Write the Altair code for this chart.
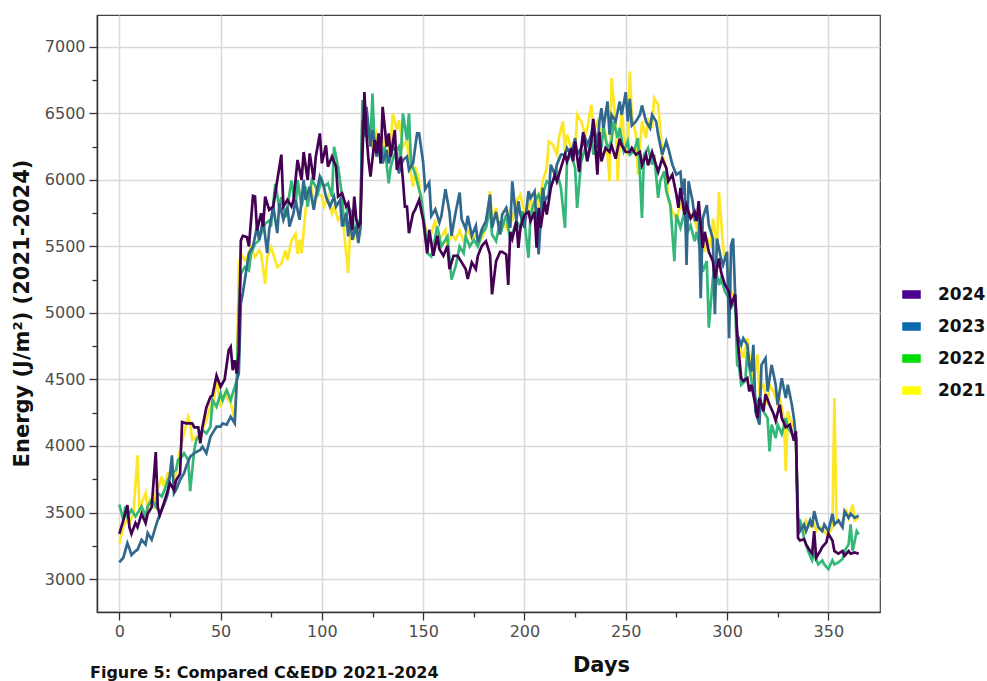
import altair as alt
import pandas as pd

YEARS = ["2024", "2023", "2022", "2021"]
LINE_COLORS = {"2024": "#440154", "2023": "#31688e", "2022": "#35b779", "2021": "#fde725"}
LEGEND_COLORS = ["#4b0092", "#0a69ad", "#00dd00", "#ffff00"]
X_TICKS = list(range(0, 351, 25))
Y_TICKS = list(range(3000, 7001, 250))
X_TITLE = "Days"
Y_TITLE = "Energy (J/m²) (2021-2024)"
CAPTION = "Figure 5: Compared C&EDD 2021-2024"

# (day, energy) readings
S2024 = [(0,3340),(2,3440),(4,3555),(5,3390),(6,3340),(8,3420),(9,3390),(11,3490),(13,3420),(14,3490),(16,3540),(18,3955),(19,3540),(20,3480),(22,3570),(23,3620),(25,3720),(27,3670),(28,3740),(30,3790),(31,4180),(33,4170),(36,4170),(37,4140),(39,4140),(40,4020),(41,4140),(43,4290),(45,4370),(46,4380),(48,4530),(50,4445),(52,4500),(54,4720),(55,4745),(56,4570),(57,4645),(58,4545),(59,4700),(60,5545),(61,5580),(63,5570),(64,5500),(66,5880),(67,5875),(68,5620),(70,5750),(71,5650),(72,5875),(74,5775),(76,5800),(78,6000),(80,6190),(81,5800),(83,5850),(85,5800),(86,5850),(88,6150),(90,6000),(91,6210),(93,6000),(94,6200),(96,6000),(97,6175),(99,6350),(100,6125),(102,6260),(103,6100),(105,6175),(107,6100),(108,5875),(110,5900),(112,5800),(113,5825),(115,5625),(116,5875),(117,5700),(118,5650),(119,5675),(121,6660),(122,6350),(123,6150),(124,6025),(126,6300),(127,6200),(128,6350),(129,6125),(130,6550),(132,6250),(133,6350),(134,6175),(136,6375),(137,6075),(139,6175),(140,6000),(141,5800),(142,5800),(143,5600),(145,5750),(146,5775),(148,5850),(150,5700),(152,5450),(153,5625),(155,5430),(157,5580),(158,5480),(160,5430),(162,5505),(163,5330),(165,5430),(167,5430),(169,5380),(171,5330),(172,5255),(174,5380),(176,5330),(177,5430),(179,5505),(181,5540),(183,5440),(184,5140),(186,5390),(188,5460),(189,5460),(191,5440),(192,5210),(193,5610),(194,5560),(196,5690),(197,5490),(198,5640),(200,5740),(202,5760),(203,5690),(205,5760),(206,5490),(207,5790),(208,5640),(210,5840),(211,5740),(213,5940),(215,6040),(216,5990),(218,6090),(220,6190),(221,6140),(223,6240),(224,6140),(225,6290),(227,6060),(228,6240),(229,6360),(231,6140),(233,6290),(234,6460),(236,6040),(237,6360),(238,6140),(240,6240),(242,6210),(243,6260),(245,6160),(247,6310),(248,6260),(250,6210),(252,6210),(253,6240),(255,6190),(257,6210),(258,6110),(260,6190),(261,6110),(263,6210),(265,6110),(266,6060),(268,6160),(270,6090),(271,5990),(273,6040),(275,5890),(276,5790),(277,5940),(279,5740),(280,5810),(282,5710),(284,5760),(285,5690),(286,5840),(288,5490),(289,5610),(291,5460),(293,5390),(294,5260),(296,5410),(297,5310),(299,5210),(301,5160),(302,5060),(304,5140),(305,4840),(307,4510),(308,4490),(310,4510),(311,4410),(312,4460),(314,4310),(315,4210),(316,4360),(318,4260),(319,4390),(321,4310),(323,4240),(324,4190),(326,4310),(327,4210),(329,4140),(331,4160),(333,4040),(334,4110),(335,3310),(336,3290),(338,3300),(339,3260),(341,3210),(342,3190),(343,3360),(344,3160),(346,3210),(347,3240),(349,3275),(350,3340),(352,3290),(353,3210),(355,3190),(357,3210),(358,3175),(360,3210),(361,3190),(363,3200),(365,3190)]

S2023 = [(0,3125),(2,3160),(4,3270),(5,3230),(6,3180),(8,3210),(9,3220),(11,3295),(13,3260),(14,3345),(16,3295),(18,3395),(19,3445),(21,3520),(23,3595),(24,3645),(26,3930),(27,3645),(28,3670),(30,3745),(32,3795),(33,3845),(35,3920),(37,3945),(38,3955),(40,3970),(41,3995),(43,3945),(45,4070),(46,4095),(48,4145),(50,4145),(51,4170),(53,4160),(55,4220),(56,4195),(57,4170),(58,4495),(59,4545),(60,5070),(61,5150),(63,5350),(64,5450),(66,5500),(68,5650),(69,5550),(71,5700),(73,5450),(74,5625),(76,5800),(78,5600),(79,5825),(81,5700),(83,5800),(84,5650),(86,5750),(87,5850),(89,5700),(91,6000),(92,5850),(94,5950),(96,5775),(97,5875),(99,6025),(101,5950),(102,5875),(104,5800),(106,5875),(107,5800),(109,5850),(110,5650),(112,5750),(113,5575),(114,5725),(115,5550),(117,5650),(118,5525),(119,5650),(120,6450),(121,6325),(122,6550),(124,6250),(125,6375),(127,6175),(129,6275),(130,6125),(132,6225),(133,6125),(135,6250),(137,6200),(138,6050),(140,6150),(142,6175),(143,6075),(145,6125),(147,6350),(148,6350),(150,6130),(151,5930),(153,5980),(154,5730),(156,5780),(158,5680),(159,5730),(161,5930),(163,5755),(164,5580),(166,5755),(168,5905),(169,5705),(171,5630),(172,5730),(174,5580),(176,5655),(177,5530),(179,5630),(181,5690),(183,5890),(184,5640),(186,5760),(188,5590),(189,5740),(191,5790),(193,5640),(194,5990),(196,5690),(197,5840),(198,5740),(200,5640),(202,5915),(203,5865),(205,5915),(207,5440),(208,5690),(209,5940),(210,5840),(212,5890),(213,6115),(215,6040),(216,6115),(218,6190),(220,6190),(221,6240),(223,6190),(225,6315),(226,6190),(228,6240),(230,6315),(231,6265),(233,6340),(234,6440),(236,6240),(237,6440),(238,6540),(239,6390),(241,6590),(242,6340),(243,6490),(245,6440),(247,6590),(248,6490),(250,6660),(251,6440),(252,6610),(253,6410),(255,6440),(257,6490),(258,6560),(260,6440),(262,6390),(263,6490),(265,6440),(266,6340),(268,6190),(270,6290),(271,6240),(273,6115),(275,6040),(277,6060),(278,5890),(279,6010),(280,5360),(281,5990),(283,5840),(284,5710),(286,5760),(287,5110),(288,5710),(290,5810),(291,5660),(293,5560),(294,4990),(295,5560),(297,5410),(298,5360),(300,5460),(301,4810),(302,5510),(303,5560),(304,5140),(305,4840),(307,4760),(308,4810),(310,4760),(311,4610),(312,4560),(313,4760),(314,4260),(316,4160),(317,4610),(319,4660),(320,4410),(322,4610),(324,4460),(325,4310),(327,4510),(329,4360),(330,4460),(332,4310),(333,4210),(334,4060),(335,3460),(336,3360),(338,3410),(339,3360),(341,3440),(342,3390),(343,3510),(345,3390),(347,3360),(348,3410),(350,3360),(352,3490),(353,3410),(355,3440),(357,3390),(358,3510),(360,3460),(361,3490),(363,3460),(365,3475)]

S2022 = [(0,3560),(2,3445),(3,3545),(4,3470),(6,3520),(8,3470),(9,3495),(11,3545),(13,3470),(14,3545),(16,3595),(18,3545),(19,3645),(21,3620),(23,3695),(24,3745),(26,3795),(28,3820),(29,3895),(31,3920),(32,3945),(34,3895),(35,3660),(37,3970),(38,4045),(40,4095),(41,4120),(43,4095),(45,4145),(46,4345),(48,4295),(50,4395),(51,4345),(53,4420),(55,4345),(56,4395),(58,4495),(59,5045),(60,5295),(62,5345),(64,5320),(65,5445),(67,5520),(69,5545),(70,5595),(72,5670),(74,5695),(75,5670),(77,5970),(79,5795),(80,5870),(82,5720),(83,5795),(85,5995),(87,5795),(88,6000),(90,5800),(92,5950),(93,5800),(95,6000),(97,5950),(98,5900),(100,6000),(101,5950),(103,5975),(105,5875),(106,6250),(108,6100),(110,5875),(111,5650),(113,5800),(115,5750),(116,5600),(118,5700),(119,5625),(120,6600),(122,6425),(124,6300),(125,6650),(126,6250),(128,6300),(129,6125),(131,6250),(133,5975),(134,6100),(136,6200),(138,6250),(139,6175),(140,6500),(142,6300),(143,6500),(144,6125),(146,6050),(148,5925),(149,5875),(151,5625),(152,5450),(154,5425),(156,5575),(157,5650),(159,5500),(161,5550),(162,5575),(164,5250),(166,5350),(168,5500),(170,5450),(171,5575),(173,5500),(175,5550),(177,5500),(179,5600),(181,5640),(183,5790),(184,5590),(186,5540),(188,5690),(189,5640),(191,5740),(193,5540),(194,5590),(196,5690),(198,5640),(199,5765),(200,5690),(202,5415),(203,5740),(205,5840),(207,5890),(208,5840),(210,5940),(211,5990),(213,5965),(215,6015),(216,6065),(218,5940),(220,5640),(221,6140),(223,6190),(225,6090),(226,5790),(228,6140),(230,6240),(231,6140),(233,6340),(234,6190),(236,6340),(238,6240),(239,6390),(241,6240),(243,6290),(244,6440),(246,6315),(247,6390),(249,6215),(251,6290),(252,6190),(254,6215),(256,6315),(257,6040),(258,5715),(259,6190),(261,6240),(263,6115),(264,6190),(266,5865),(267,5990),(269,6065),(270,5915),(272,5815),(274,5390),(275,5740),(277,5640),(279,5760),(280,5590),(282,5660),(284,5540),(285,5610),(287,5460),(288,5310),(290,5390),(291,4890),(293,5260),(294,5360),(296,5210),(297,5260),(299,5160),(301,5110),(302,5040),(304,5090),(305,4610),(306,4590),(307,4460),(309,4490),(310,4710),(311,4590),(313,4410),(315,4310),(316,4360),(318,4260),(320,4210),(321,3960),(322,4160),(324,4060),(325,4160),(327,4090),(329,4210),(330,4140),(332,4090),(334,4060),(335,3460),(336,3440),(337,3390),(338,3310),(340,3210),(342,3140),(343,3190),(345,3110),(347,3140),(348,3110),(350,3075),(352,3140),(353,3110),(355,3125),(357,3150),(358,3210),(360,3260),(361,3410),(362,3210),(364,3360),(365,3335)]

S2021 = [(0,3270),(2,3395),(4,3445),(5,3420),(7,3495),(9,3930),(10,3495),(11,3570),(13,3645),(14,3520),(15,3595),(17,3545),(18,3645),(20,3720),(21,3770),(22,3695),(24,3795),(26,3795),(27,3720),(29,3895),(30,3970),(32,4095),(34,4220),(35,4170),(36,4045),(38,4070),(40,4045),(41,4120),(43,4195),(45,4295),(46,4245),(48,4520),(49,4395),(50,4295),(52,4395),(54,4345),(55,4320),(57,4195),(58,4495),(59,5345),(60,5445),(62,5395),(64,5445),(65,5495),(67,5420),(69,5470),(70,5445),(72,5220),(73,5420),(75,5495),(77,5395),(78,5345),(80,5370),(82,5470),(83,5395),(85,5545),(87,5595),(88,5445),(89,5550),(90,5450),(92,5775),(93,5850),(95,5925),(96,5800),(98,5900),(100,5875),(101,5800),(103,5875),(105,5750),(106,5800),(108,5700),(110,5750),(111,5600),(113,5300),(114,5650),(116,5575),(117,5650),(119,5600),(120,6500),(122,6300),(124,6375),(125,6225),(127,6350),(129,6250),(130,6325),(132,6150),(134,6275),(135,6500),(137,6375),(138,6450),(140,6250),(142,6300),(143,6125),(145,5950),(146,6100),(148,6000),(149,5775),(151,5650),(152,5550),(154,5600),(156,5700),(157,5550),(159,5575),(161,5625),(162,5500),(164,5600),(166,5550),(168,5620),(170,5540),(172,5620),(174,5560),(176,5580),(178,5540),(180,5600),(181,5640),(183,5915),(184,5690),(186,5790),(188,5590),(189,5690),(191,5640),(193,5790),(194,5690),(196,5840),(198,5890),(199,5815),(201,5715),(203,5890),(204,5740),(206,5890),(207,5790),(209,5990),(211,6090),(212,6290),(214,6265),(216,6190),(217,6315),(219,6440),(220,6215),(221,6340),(223,6240),(225,6215),(226,6490),(228,6440),(230,6340),(231,6390),(233,6565),(234,6365),(236,6440),(238,6315),(239,6465),(241,6190),(242,5990),(243,6765),(245,6440),(246,5990),(248,6565),(249,6340),(251,6190),(252,6815),(253,6490),(255,6340),(256,6040),(258,6440),(260,6315),(261,6465),(263,6390),(264,6615),(266,6565),(267,6390),(268,6190),(270,6090),(271,5840),(273,5765),(275,5710),(277,5810),(279,5760),(280,5690),(282,5740),(284,5710),(285,5640),(287,5590),(289,5460),(290,5560),(292,5510),(293,5710),(295,5510),(296,5910),(298,5510),(299,5390),(301,5310),(302,5160),(304,5110),(305,4790),(307,4710),(308,4660),(310,4810),(312,4560),(313,4460),(315,4690),(316,4410),(318,4460),(320,4310),(321,4460),(323,4410),(325,4310),(326,4360),(328,4210),(329,3810),(330,4260),(331,4210),(333,4140),(334,4060),(335,3460),(336,3410),(338,3360),(339,3440),(341,3390),(343,3410),(344,3360),(346,3390),(348,3360),(349,3335),(351,3360),(352,3390),(353,4360),(354,3460),(356,3410),(357,3440),(359,3510),(360,3460),(362,3560),(363,3440),(365,3460)]

SERIES = {"2024": S2024, "2023": S2023, "2022": S2022, "2021": S2021}

rows = []
for yr, pts in SERIES.items():
    for d, v in pts:
        rows.append({"year": yr, "day": d, "energy": v})
df = pd.DataFrame(rows)

W, H = 783, 597
FONT = "DejaVu Sans"

xs = alt.Scale(domain=[-11, 375.5], nice=False, zero=False)
ys = alt.Scale(domain=[2752, 7240], nice=False, zero=False)

x_axis = alt.Axis(
    values=X_TICKS,
    labelExpr="datum.value % 50 === 0 ? datum.label : ''",
    tickSize={"condition": {"test": "datum.value % 50 === 0", "value": 8}, "value": 5},
    gridOpacity={"condition": {"test": "datum.value % 50 === 0", "value": 1}, "value": 0},
    title=X_TITLE, titleX=504, titleY=42, titleAlign="center", titleBaseline="top",
    labelPadding=3,
)
y_axis = alt.Axis(
    values=Y_TICKS,
    labelExpr="datum.value % 500 === 0 ? datum.label : ''",
    tickSize={"condition": {"test": "datum.value % 500 === 0", "value": 8}, "value": 5},
    gridOpacity={"condition": {"test": "datum.value % 500 === 0", "value": 1}, "value": 0},
    title=Y_TITLE, titleAngle=270, titleX=-75, titleY=298,
    titleAlign="center", titleBaseline="middle", labelPadding=4,
    format="d",
)

layers = []
for yr in ["2021", "2022", "2023", "2024"]:
    layers.append(
        alt.Chart(df).transform_filter(f"datum.year === '{yr}'")
        .mark_line(color=LINE_COLORS[yr], strokeWidth=2.7)
        .encode(
            x=alt.X("day:Q", scale=xs, axis=x_axis),
            y=alt.Y("energy:Q", scale=ys, axis=y_axis),
        )
    )

legend_layer = (
    alt.Chart(df).transform_filter("datum.day < -1000")
    .mark_point(filled=True)
    .encode(
        x=alt.X("day:Q", scale=xs, axis=x_axis),
        y=alt.Y("energy:Q", scale=ys, axis=y_axis),
        color=alt.Color(
            "year:N",
            scale=alt.Scale(domain=YEARS, range=LEGEND_COLORS),
            legend=alt.Legend(
                title=None, orient="none", legendX=806, legendY=271,
                symbolType="M-1.09,-0.5H1.09V0.5H-1.09Z", symbolSize=289,
                symbolStrokeWidth=0, symbolOpacity=1,
                labelFont=FONT, labelFontSize=17, labelFontWeight="bold",
                labelColor="#111111", labelOffset=18, rowPadding=14, padding=0,
            ),
        ),
    )
)

caption_layer = (
    alt.Chart(pd.DataFrame({"t": [CAPTION]}))
    .mark_text(align="left", baseline="bottom", font=FONT, fontSize=16,
               fontWeight="bold", color="#111111")
    .encode(x=alt.value(-7), y=alt.value(666), text="t:N")
)

chart = (
    alt.layer(*layers, legend_layer, caption_layer)
    .properties(
        width=W, height=H,
        padding={"left": 97, "top": 15, "right": 107, "bottom": 69},
        autosize=alt.AutoSizeParams(type="none"),
    )
    .configure(font=FONT)
    .configure_view(stroke="#444444", strokeWidth=1.2)
    .configure_axis(
        domainColor="#333333", domainWidth=1.5,
        tickColor="#333333", tickWidth=1.3,
        gridColor="#d9d9d9", gridWidth=1.5,
        labelFont=FONT, labelFontSize=16, labelColor="#4d4d4d",
        titleFont=FONT, titleFontSize=21, titleFontWeight="bold", titleColor="#111111",
    )
)

chart.save("out.html", embed_options={"renderer": "svg", "actions": False})
